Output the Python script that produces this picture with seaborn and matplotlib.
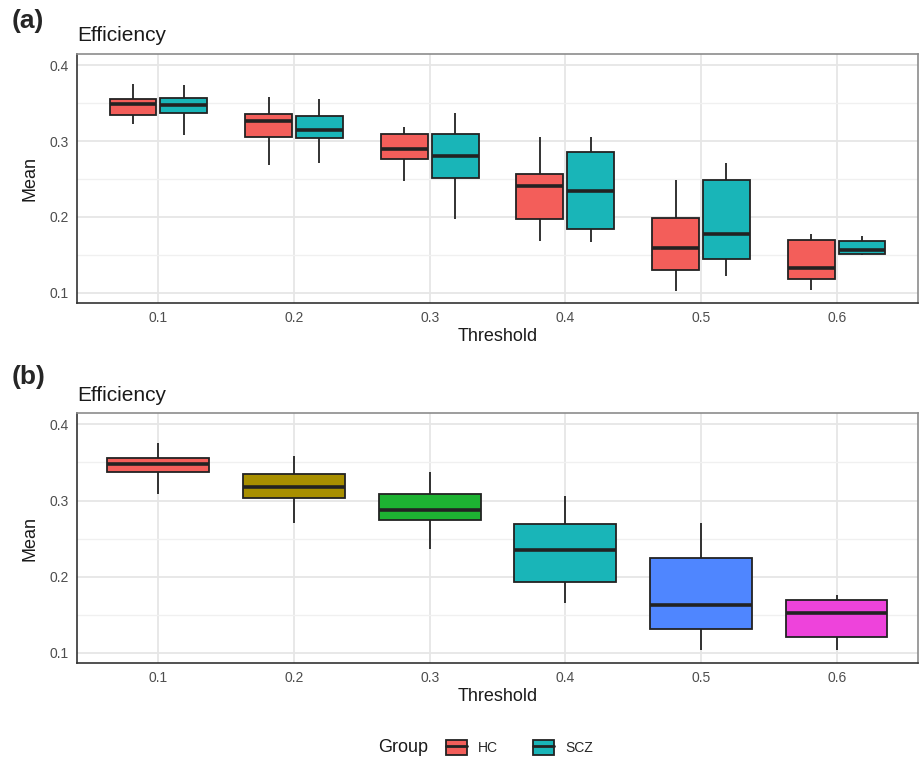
import numpy as np
import pandas as pd
import seaborn as sns
import matplotlib.pyplot as plt
from matplotlib.patches import Patch
from matplotlib.lines import Line2D

# thresholds on the x axis
thresholds = ["0.1", "0.2", "0.3", "0.4", "0.5", "0.6"]
groups = ["HC", "SCZ"]

# box summaries: [whisker low, q1, median, q3, whisker high]
hc_boxes = [
    [0.323, 0.335, 0.349, 0.356, 0.375],
    [0.269, 0.306, 0.326, 0.336, 0.358],
    [0.248, 0.277, 0.289, 0.309, 0.319],
    [0.168, 0.197, 0.241, 0.257, 0.306],
    [0.102, 0.130, 0.159, 0.199, 0.249],
    [0.103, 0.118, 0.133, 0.169, 0.177],
]
scz_boxes = [
    [0.308, 0.337, 0.348, 0.357, 0.374],
    [0.271, 0.304, 0.315, 0.333, 0.355],
    [0.197, 0.251, 0.280, 0.309, 0.337],
    [0.167, 0.184, 0.234, 0.286, 0.305],
    [0.122, 0.145, 0.177, 0.249, 0.271],
    [0.150, 0.151, 0.157, 0.168, 0.175],
]
all_boxes = [
    [0.308, 0.337, 0.348, 0.356, 0.376],
    [0.270, 0.304, 0.318, 0.335, 0.359],
    [0.236, 0.274, 0.288, 0.309, 0.337],
    [0.166, 0.193, 0.235, 0.269, 0.306],
    [0.103, 0.131, 0.163, 0.224, 0.270],
    [0.103, 0.121, 0.152, 0.169, 0.176],
]

group_colors = ["#F35E5A", "#19B5B8"]
threshold_colors = ["#F35E5A", "#A88F00", "#1DB232", "#19B5B8", "#4F86FF", "#EE43DB"]

rows_a = []
for g, boxes in zip(groups, [hc_boxes, scz_boxes]):
    for t, vals in zip(thresholds, boxes):
        for v in vals:
            rows_a.append({"Threshold": t, "Group": g, "Mean": v})
df_a = pd.DataFrame(rows_a)

rows_b = []
for t, vals in zip(thresholds, all_boxes):
    for v in vals:
        rows_b.append({"Threshold": t, "Mean": v})
df_b = pd.DataFrame(rows_b)

sns.set_theme(style="white")
plt.rcParams["font.family"] = ["Liberation Sans", "DejaVu Sans"]

fig = plt.figure(figsize=(9.23, 7.58), dpi=100)
ax_a = fig.add_axes([0.0834, 0.6003, 0.9112, 0.3285])
ax_b = fig.add_axes([0.0834, 0.1253, 0.9112, 0.3298])

edge = "#222222"
box_kw = dict(whis=(0, 100), showcaps=False, showfliers=False, linewidth=1.3,
              linecolor=edge, saturation=1,
              medianprops=dict(linewidth=2.6, color=edge),
              whiskerprops=dict(linewidth=1.3, color=edge))

sns.boxplot(data=df_a, x="Threshold", y="Mean", hue="Group", order=thresholds,
            hue_order=groups, palette=group_colors, width=0.75, gap=0.08,
            legend=False, ax=ax_a, **box_kw)
sns.boxplot(data=df_b, x="Threshold", y="Mean", hue="Threshold", order=thresholds,
            palette=threshold_colors, width=0.75, legend=False, ax=ax_b, **box_kw)

for ax, lab in [(ax_a, "(a)"), (ax_b, "(b)")]:
    ax.set_xlim(-0.6, 5.6)
    ax.set_ylim(0.0865, 0.415)
    ax.set_yticks([0.1, 0.2, 0.3, 0.4])
    ax.set_yticks([0.15, 0.25, 0.35], minor=True)
    ax.grid(True, which="major", color="#E6E6E6", linewidth=1.3)
    ax.grid(True, which="minor", axis="y", color="#F0F0F0", linewidth=1.0)
    ax.set_axisbelow(True)
    ax.tick_params(axis="both", which="major", length=3, width=1, color="#333333",
                   labelsize=10, labelcolor="#4D4D4D", pad=3)
    ax.tick_params(axis="y", which="minor", length=0)
    ax.set_xlabel("Threshold", fontsize=13, color="#1A1A1A", labelpad=2)
    ax.set_ylabel("Mean", fontsize=13, color="#1A1A1A", labelpad=8)
    ax.set_title("Efficiency", loc="left", fontsize=15, color="#1A1A1A", pad=9)
    for side in ["left", "bottom"]:
        ax.spines[side].set_color("#333333")
        ax.spines[side].set_linewidth(1.2)
    for side in ["top", "right"]:
        ax.spines[side].set_color("#8C8C8C")
        ax.spines[side].set_linewidth(1.2)

fig.text(0.013, 0.972, "(a)", fontsize=19, fontweight="bold", va="center")
fig.text(0.013, 0.503, "(b)", fontsize=19, fontweight="bold", va="center")

# legend at the bottom
handles = []
for c in group_colors:
    handles.append((Patch(facecolor=c, edgecolor=edge, linewidth=1.3),
                    Line2D([0, 1], [0.5, 0.5], color=edge, linewidth=2)))
fig.text(0.41, 0.0135, "Group", fontsize=13, va="center", ha="left", color="#1A1A1A")
fig.legend(handles, groups, loc="center left", bbox_to_anchor=(0.47, 0.0135),
           ncol=2, frameon=False, fontsize=10, handlelength=1.5, handleheight=1.3,
           columnspacing=2.5, handletextpad=0.8)

fig.savefig("out.png", dpi=100)
